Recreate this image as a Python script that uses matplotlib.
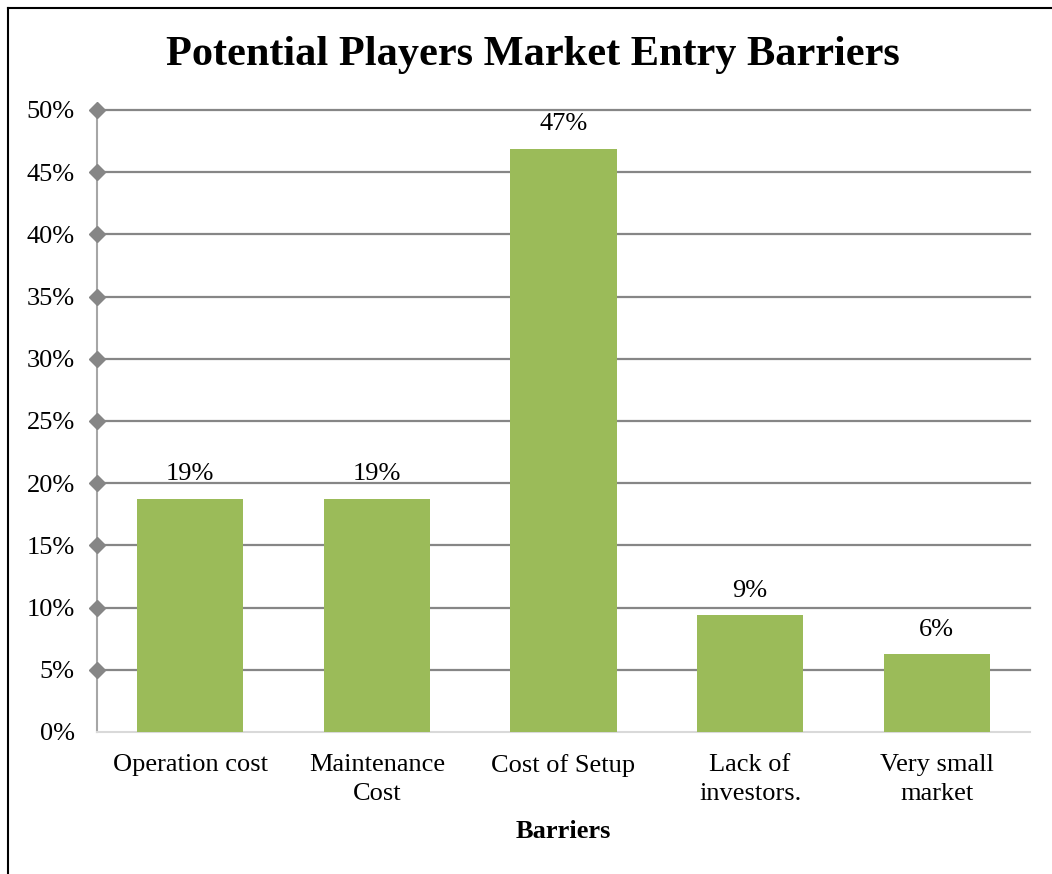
import matplotlib
matplotlib.use("Agg")
import matplotlib.pyplot as plt
from matplotlib.lines import Line2D
from matplotlib.ticker import FuncFormatter

barriers = ["Operation cost", "Maintenance\nCost", "Cost of Setup", "Lack of\ninvestors.", "Very small\nmarket"]
shares = [6 / 32, 6 / 32, 15 / 32, 3 / 32, 2 / 32]
yticks = [0, 0.05, 0.10, 0.15, 0.20, 0.25, 0.30, 0.35, 0.40, 0.45, 0.50]

plt.rcParams["font.family"] = ["Liberation Serif", "DejaVu Serif"]

fig = plt.figure(figsize=(10.52, 8.74), dpi=100)
ax = fig.add_axes([97 / 1052, 1 - 732 / 874, 933 / 1052, 622 / 874])

x = list(range(len(barriers)))
bars = ax.bar(x, shares, width=0.57, color="#9BBB59", zorder=3)
for rect, v in zip(bars, shares):
    ax.text(rect.get_x() + rect.get_width() / 2, v + 0.011, "{:.0%}".format(v),
            ha="center", va="bottom", fontsize=19)

ax.set_xlim(-0.5, len(barriers) - 0.5)
ax.set_ylim(0, 0.5)
ax.set_yticks(yticks)
ax.yaxis.set_major_formatter(FuncFormatter(lambda v, p: "{:.0f}%".format(v * 100)))
ax.set_xticks(x)
ax.set_xticklabels(barriers, fontsize=19, linespacing=1.38)
ax.tick_params(axis="y", labelsize=19, length=0, pad=16)
ax.tick_params(axis="x", length=0, pad=16)

# gridlines with diamond markers on the value axis
for t in yticks[1:]:
    ax.axhline(t, color="#868686", lw=1.6, zorder=1, clip_on=False)
ax.plot([0] * (len(yticks) - 1), yticks[1:], "D", color="#868686", ms=8.5,
        transform=ax.get_yaxis_transform(), clip_on=False, zorder=4)

for side in ["top", "right"]:
    ax.spines[side].set_visible(False)
ax.spines["left"].set_color("#a6a6a6")
ax.spines["left"].set_linewidth(1.5)
ax.spines["bottom"].set_color("#d9d9d9")
ax.spines["bottom"].set_linewidth(1.5)

ax.set_xlabel("Barriers", fontsize=19, fontweight="bold", labelpad=11)
fig.text(533 / 1052, 1 - 55 / 874, "Potential Players Market Entry Barriers",
         ha="center", va="center", fontsize=30.5, fontweight="bold")

# outer frame, left and top edges only
fig.add_artist(Line2D([8 / 1052, 8 / 1052], [0, 1 - 8 / 874], color="black", lw=1.5, transform=fig.transFigure))
fig.add_artist(Line2D([8 / 1052, 1], [1 - 8 / 874, 1 - 8 / 874], color="black", lw=1.5, transform=fig.transFigure))

fig.savefig("out.png", dpi=100)
